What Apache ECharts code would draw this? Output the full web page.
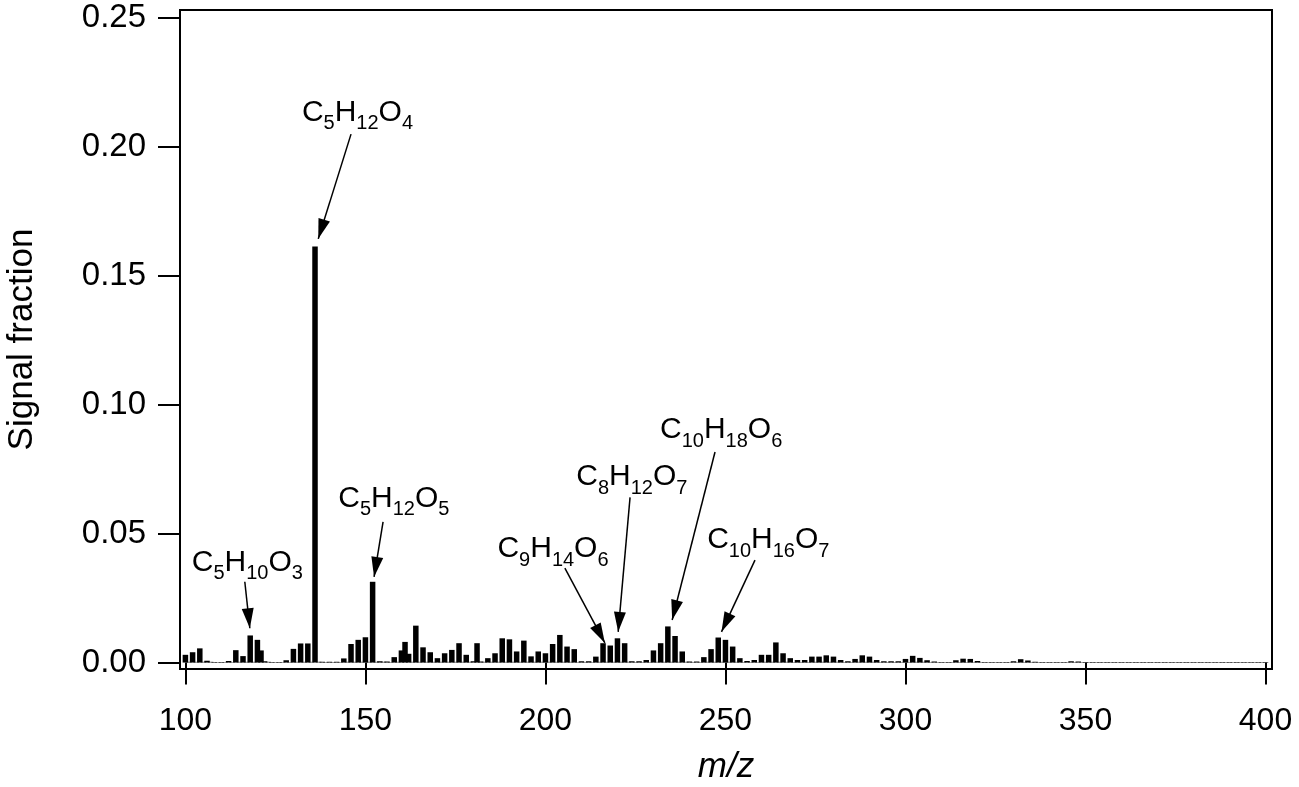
<!DOCTYPE html>
<html>
<head>
<meta charset="utf-8">
<script src="https://cdn.jsdelivr.net/npm/echarts@6/dist/echarts.min.js"></script>
<style>html,body{margin:0;padding:0;background:#fff}#c{width:1299px;height:787px}</style>
</head>
<body>
<div id="c"></div>
<script>
// m/z values (integer masses)
var mz = [100,102,104,106,108,110,112,114,116,118,120,121,122,124,126,128,130,132,134,136,138,140,142,144,146,148,150,152,154,156,158,160,161,162,164,166,168,170,172,174,176,178,180,181,182,184,186,188,190,192,194,196,198,200,202,204,206,208,210,212,214,216,218,220,222,224,226,228,230,232,234,236,238,240,242,244,246,248,250,252,254,256,258,260,262,264,266,268,270,272,274,276,278,280,282,284,286,288,290,292,294,296,298,300,302,304,306,308,310,312,314,316,318,320,322,324,326,328,330,332,334,336,338,340,342,344,346,348,350,352,354,356,358,360,362,364,366,368,370,372,374,376,378,380,382,384,386,388,390,392,394,396,398,400];
// signal fraction for each m/z
var signal = [0.0030,0.0040,0.0055,0.0007,0.0002,0.0002,0.0006,0.0048,0.0025,0.0105,0.0088,0.0047,0.0005,0.0002,0.0002,0.0009,0.0053,0.0074,0.0074,0.1612,0.0003,0.0003,0.0003,0.0016,0.0072,0.0088,0.0098,0.0313,0.0005,0.0004,0.0021,0.0047,0.0080,0.0034,0.0143,0.0059,0.0040,0.0017,0.0036,0.0049,0.0075,0.0030,0.0005,0.0075,0.0004,0.0017,0.0036,0.0094,0.0090,0.0043,0.0085,0.0024,0.0043,0.0036,0.0072,0.0107,0.0062,0.0052,0.0005,0.0005,0.0023,0.0075,0.0066,0.0094,0.0075,0.0005,0.0005,0.0010,0.0047,0.0075,0.0140,0.0103,0.0043,0.0004,0.0004,0.0021,0.0052,0.0097,0.0088,0.0062,0.0017,0.0006,0.0010,0.0030,0.0030,0.0078,0.0036,0.0017,0.0010,0.0010,0.0023,0.0023,0.0028,0.0023,0.0010,0.0005,0.0014,0.0028,0.0023,0.0010,0.0005,0.0005,0.0005,0.0014,0.0026,0.0018,0.0009,0.0004,0.0002,0.0002,0.0009,0.0015,0.0014,0.0006,0.0002,0.0002,0.0002,0.0002,0.0005,0.0013,0.0008,0.0003,0.0002,0.0002,0.0002,0.0002,0.0005,0.0004,0.0002,0.0002,0.0002,0.0002,0.0002,0.0002,0.0002,0.0002,0.0002,0.0002,0.0002,0.0002,0.0002,0.0002,0.0002,0.0002,0.0002,0.0002,0.0002,0.0002,0.0002,0.0002,0.0002,0.0002,0.0002,0.0002];
// weak odd-mass signals forming the near-zero baseline
var oddMz = [101,103,105,107,109,111,113,115,117,119,123,125,127,129,131,133,135,137,139,141,143,145,147,149,151,153,155,157,159,163,165,167,169,171,173,175,177,179,183,185,187,189,191,193,195,197,199,201,203,205,207,209,211,213,215,217,219,221,223,225,227,229,231,233,235,237,239,241,243,245,247,249,251,253,255,257,259,261,263,265,267,269,271,273,275,277,279,281,283,285,287,289,291,293,295,297,299,301,303,305,307,309,311,313,315,317,319,321,323,325,327,329,331,333,335,337,339,341,343,345,347,349,351,353,355,357,359,361,363,365,367,369,371,373,375,377,379,381,383,385,387,389,391,393,395,397,399];
var oddSignal = [0.0003,0.0003,0.0003,0.0003,0.0002,0.0002,0.0002,0.0003,0.0003,0.0003,0.0003,0.0002,0.0002,0.0002,0.0003,0.0003,0.0003,0.0003,0.0002,0.0002,0.0002,0.0003,0.0003,0.0003,0.0003,0.0003,0.0003,0.0002,0.0003,0.0003,0.0003,0.0003,0.0003,0.0003,0.0003,0.0003,0.0003,0.0003,0.0003,0.0003,0.0003,0.0003,0.0003,0.0003,0.0003,0.0003,0.0003,0.0003,0.0003,0.0003,0.0003,0.0002,0.0002,0.0002,0.0003,0.0003,0.0003,0.0003,0.0003,0.0002,0.0002,0.0002,0.0003,0.0003,0.0003,0.0003,0.0003,0.0002,0.0002,0.0003,0.0003,0.0003,0.0003,0.0003,0.0002,0.0002,0.0002,0.0003,0.0003,0.0003,0.0003,0.0002,0.0002,0.0002,0.0003,0.0003,0.0003,0.0003,0.0002,0.0002,0.0003,0.0003,0.0003,0.0002,0.0002,0.0002,0.0002,0.0002,0.0003,0.0003,0.0002,0.0002,0.0002,0.0002,0.0002,0.0002,0.0002,0.0002,0.0002,0.0002,0.0002,0.0002,0.0002,0.0002,0.0002,0.0002,0.0002,0.0002,0.0002,0.0002,0.0002,0.0002,0.0002,0.0002,0.0002,0.0002,0.0002,0.0002,0.0002,0.0002,0.0002,0.0002,0.0002,0.0002,0.0002,0.0002,0.0002,0.0002,0.0002,0.0002,0.0002,0.0002,0.0002,0.0002,0.0002,0.0002,0.0002,0.0002,0.0002,0.0002];

var xTicks = [100,150,200,250,300,350,400];
var yTicks = [0,0.05,0.10,0.15,0.20,0.25];

// annotation labels: [C, H, O] counts, label centre (m/z, signal), arrow start, arrow tip
var annC = ['5','5','5','9','8','10','10'];
var annH = ['12','10','12','14','12','18','16'];
var annO = ['4','3','5','6','7','6','7'];
var annLabelPos = [[147.8,0.2130],[117.2,0.0386],[157.9,0.0634],[202.1,0.0440],[224.0,0.0719],[248.8,0.0901],[261.9,0.0475]];
var annArrowFrom = [[146.0,0.2048],[116.5,0.0313],[154.9,0.0545],[205.4,0.0366],[223.5,0.0640],[247.1,0.0816],[258.2,0.0397]];
var annArrowTo = [[136.9,0.1642],[117.9,0.0133],[152.4,0.0332],[216.5,0.0076],[220.2,0.0119],[235.2,0.0165],[248.9,0.0119]];

var FONT = '"Liberation Sans", Arial, Helvetica, sans-serif';

var barData = mz.map(function (m, i) { return [m, signal[i]]; });
var oddData = oddMz.map(function (m, i) { return [m, oddSignal[i]]; });
var labelData = annLabelPos.map(function (p, i) {
  return { value: p, txt: '{m|C}{s|' + annC[i] + '}{m|H}{s|' + annH[i] + '}{m|O}{s|' + annO[i] + '}' };
});
var arrowData = annArrowFrom.map(function (p, i) { return { coords: [p, annArrowTo[i]] }; });

var chart = echarts.init(document.getElementById('c'), null, { renderer: 'canvas' });
chart.setOption({
  animation: false,
  backgroundColor: '#fff',
  grid: { left: 180, right: 27, top: 10, bottom: 118, show: true, borderColor: '#000', borderWidth: 2,
    containLabel: false, outerBoundsMode: 'none' },
  xAxis: {
    type: 'value', min: 98.5, max: 401.8,
    axisLine: { show: false },
    splitLine: { show: false },
    axisTick: { show: true, inside: false, length: 22, customValues: xTicks, lineStyle: { color: '#000', width: 2 } },
    axisLabel: { customValues: xTicks, margin: 36, color: '#000', fontSize: 32, fontFamily: FONT },
    name: 'm/z', nameLocation: 'middle', nameGap: 81,
    nameTextStyle: { fontSize: 35, fontStyle: 'italic', color: '#000', fontFamily: FONT }
  },
  yAxis: {
    type: 'value', min: -0.0025, max: 0.2529,
    axisLine: { show: false },
    splitLine: { show: false },
    axisTick: { show: true, inside: false, length: 22, customValues: yTicks, lineStyle: { color: '#000', width: 2 } },
    axisLabel: { customValues: yTicks, margin: 34, color: '#000', fontSize: 33, fontFamily: FONT,
      formatter: function (v) { return v.toFixed(2); } },
    name: 'Signal fraction', nameLocation: 'middle', nameGap: 140, nameRotate: 90,
    nameTextStyle: { fontSize: 35, color: '#000', fontFamily: FONT }
  },
  series: [
    {
      type: 'bar', data: oddData, barWidth: 5.5, barGap: '-100%',
      itemStyle: { color: '#555' }, z: 1
    },
    {
      type: 'bar', data: barData, barWidth: 5.5, barGap: '-100%',
      itemStyle: { color: '#000' }, z: 2
    },
    {
      type: 'lines', coordinateSystem: 'cartesian2d', data: arrowData,
      symbol: ['none', 'path://M0,0 M40,40 M20,20 L26,40 L14,40 Z'], symbolSize: [1, 40],
      lineStyle: { color: '#000', width: 1.5, opacity: 1, curveness: 0 },
      z: 3
    },
    {
      type: 'scatter', data: labelData, symbolSize: 0, z: 4,
      itemStyle: { color: '#000', opacity: 1 },
      label: {
        show: true, position: 'inside', opacity: 1,
        formatter: function (p) { return p.data.txt; },
        color: '#000', textBorderWidth: 0, textBorderColor: 'transparent',
        fontSize: 30, fontFamily: FONT, lineHeight: 42,
        rich: {
          m: { fontSize: 30, lineHeight: 42, color: '#000', textBorderWidth: 0, fontFamily: FONT },
          s: { fontSize: 20, lineHeight: 20, verticalAlign: 'bottom', color: '#000', textBorderWidth: 0, fontFamily: FONT }
        }
      },
      emphasis: { disabled: true }
    }
  ]
});
</script>
</body>
</html>
